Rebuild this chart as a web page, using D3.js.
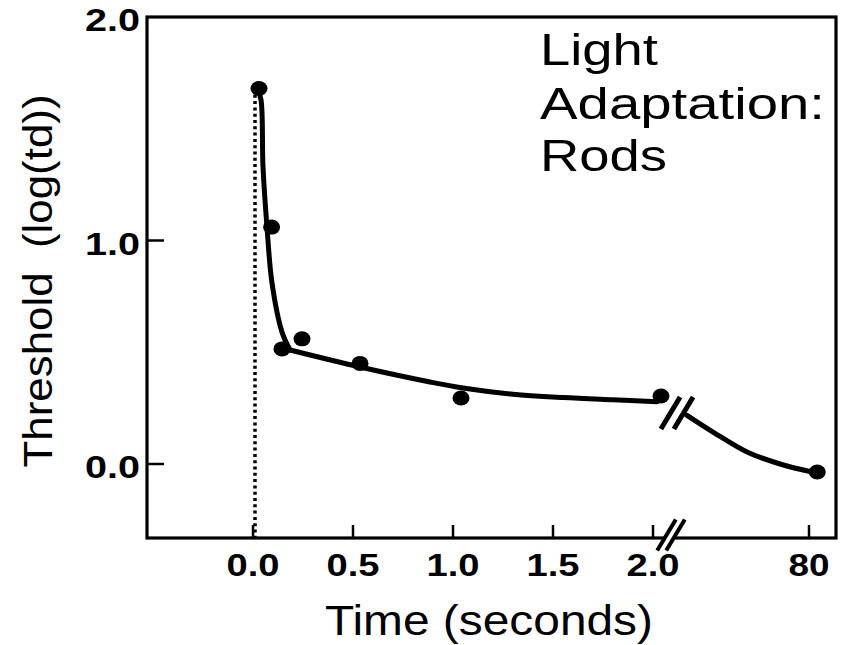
<!DOCTYPE html>
<html>
<head>
<meta charset="utf-8">
<script src="https://cdn.jsdelivr.net/npm/d3@7"></script>
<style>
  html, body { margin: 0; padding: 0; background: #fff; }
  text { font-family: "Liberation Sans", Arial, Helvetica, sans-serif; fill: #000; }
</style>
</head>
<body>
<svg id="chart" width="852" height="645"></svg>
<script>
// measured points (time in s, threshold in log td)
const dotTimes = [0.03, 0.093, 0.145, 0.245, 0.535, 1.04, 2.04];
const dotValues = [1.68, 1.06, 0.515, 0.56, 0.45, 0.295, 0.304];
const lateDotTimes = [85];
const lateDotValues = [-0.036];

// fitted curve, fast phase then slow phase, and the late part after the break
const fastTimes = [0.025, 0.04, 0.05, 0.07, 0.095, 0.145, 0.185];
const fastValues = [1.67, 1.63, 1.33, 1.06, 0.81, 0.59, 0.51];
const slowTimes = [0.185, 0.535, 0.885, 1.05, 1.3, 1.55, 1.8, 2.02];
const slowValues = [0.51, 0.434, 0.367, 0.34, 0.312, 0.297, 0.287, 0.279];
const lateTimes = [6, 22, 42.5, 62.5, 82];
const lateValues = [0.219, 0.143, 0.054, 0.0, -0.036];

const xTicks = [0, 0.5, 1, 1.5, 2];
const xTickLabels = ['0.0', '0.5', '1.0', '1.5', '2.0'];
const lateTicks = [80];
const lateTickLabels = ['80'];
const yTicks = [0, 1, 2];
const yTickLabels = ['0.0', '1.0', '2.0'];

const frame = {left: 147, right: 836, top: 17, bottom: 538};

const svg = d3.select('#chart');

const x = d3.scaleLinear().domain([0, 2]).range([253, 653]);
const xLate = d3.scaleLinear().domain([2, 80]).range([680, 809]);
const y = d3.scaleLinear().domain([0, 2]).range([464, frame.top]);

const zip = (a, b) => a.map((d, i) => [d, b[i]]);

// frame
svg.append('rect')
    .attr('x', frame.left)
    .attr('y', frame.top)
    .attr('width', frame.right - frame.left)
    .attr('height', frame.bottom - frame.top)
    .attr('fill', 'none')
    .attr('stroke', '#000')
    .attr('stroke-width', 3.2);

// y ticks (inside, pointing right)
svg.append('g').selectAll('line')
    .data(yTicks.filter(d => d < 2))
    .join('line')
    .attr('x1', frame.left).attr('x2', frame.left + 17)
    .attr('y1', d => y(d)).attr('y2', d => y(d))
    .attr('stroke', '#000').attr('stroke-width', 2.5);

svg.append('g').selectAll('text')
    .data(yTicks)
    .join('text')
    .attr('x', 140)
    .attr('y', d => y(d) + 14)
    .attr('text-anchor', 'end')
    .attr('font-size', 32)
    .attr('font-weight', 'bold')
    .attr('textLength', 55)
    .attr('lengthAdjust', 'spacingAndGlyphs')
    .text((d, i) => yTickLabels[i]);

// x ticks (inside, pointing up)
const allTicks = xTicks.map((d, i) => ({px: x(d), label: xTickLabels[i], w: 53}))
    .concat(lateTicks.map((d, i) => ({px: xLate(d), label: lateTickLabels[i], w: 41})));

svg.append('g').selectAll('line')
    .data(allTicks)
    .join('line')
    .attr('x1', d => d.px).attr('x2', d => d.px)
    .attr('y1', frame.bottom).attr('y2', frame.bottom - 13)
    .attr('stroke', '#000').attr('stroke-width', 2.5);

svg.append('g').selectAll('text')
    .data(allTicks)
    .join('text')
    .attr('x', d => d.px)
    .attr('y', 576)
    .attr('text-anchor', 'middle')
    .attr('font-size', 32)
    .attr('font-weight', 'bold')
    .attr('textLength', d => d.w)
    .attr('lengthAdjust', 'spacingAndGlyphs')
    .text(d => d.label);

// dotted line at stimulus onset
svg.append('line')
    .attr('x1', x(0) + 2).attr('x2', x(0) + 2)
    .attr('y1', y(dotValues[0])).attr('y2', frame.bottom)
    .attr('stroke', '#000')
    .attr('stroke-width', 3.5)
    .attr('stroke-dasharray', '3,3.3');

// curves
const line = d3.line().curve(d3.curveCatmullRom.alpha(0.5));
const curves = [
    zip(fastTimes, fastValues).map(d => [x(d[0]), y(d[1])]),
    zip(slowTimes, slowValues).map(d => [x(d[0]), y(d[1])]),
    zip(lateTimes, lateValues).map(d => [xLate(d[0]), y(d[1])])
];
curves.forEach(pts => {
    svg.append('path')
        .attr('d', line(pts))
        .attr('fill', 'none').attr('stroke', '#000')
        .attr('stroke-width', 5)
        .attr('stroke-linecap', 'round')
        .attr('stroke-linejoin', 'round');
});

// data dots
const dots = zip(dotTimes, dotValues).map(d => [x(d[0]), y(d[1])])
    .concat(zip(lateDotTimes, lateDotValues).map(d => [xLate(d[0]), y(d[1])]));
svg.append('g').selectAll('ellipse')
    .data(dots)
    .join('ellipse')
    .attr('cx', d => d[0]).attr('cy', d => d[1])
    .attr('rx', 8.5).attr('ry', 7.5)
    .attr('fill', '#000');

// axis breaks "//"
function drawBreak(cx, cy, gap, h, w) {
    const g = svg.append('g');
    const dx = h * 0.6;
    g.append('polygon')
        .attr('points', [
            [cx - gap / 2 - dx / 2, cy + h / 2], [cx - gap / 2 + dx / 2, cy - h / 2],
            [cx + gap / 2 + dx / 2, cy - h / 2], [cx + gap / 2 - dx / 2, cy + h / 2]
        ].map(p => p.join(',')).join(' '))
        .attr('fill', '#fff');
    [-gap / 2, gap / 2].forEach(off => {
        g.append('line')
            .attr('x1', cx + off - dx / 2).attr('y1', cy + h / 2)
            .attr('x2', cx + off + dx / 2).attr('y2', cy - h / 2)
            .attr('stroke', '#000').attr('stroke-width', w);
    });
}
drawBreak(671, frame.bottom - 3, 9, 31, 4);
drawBreak(677, y(0.228), 13, 32, 5);

// axis titles
svg.append('text')
    .attr('x', 489).attr('y', 635)
    .attr('text-anchor', 'middle')
    .attr('font-size', 42)
    .attr('textLength', 328)
    .attr('lengthAdjust', 'spacingAndGlyphs')
    .text('Time (seconds)');

svg.append('text')
    .attr('transform', 'translate(52,281) rotate(-90)')
    .attr('text-anchor', 'middle')
    .attr('font-size', 40)
    .attr('textLength', 373)
    .attr('lengthAdjust', 'spacingAndGlyphs')
    .style('white-space', 'pre')
    .text('Threshold  (log(td))');

// panel label
const panelLines = ['Light', 'Adaptation:', 'Rods'];
const panelBase = [65, 119, 171];
const panelWidth = [118, 285, 127];
svg.append('g').selectAll('text')
    .data(panelLines)
    .join('text')
    .attr('x', 540)
    .attr('y', (d, i) => panelBase[i])
    .attr('font-size', 44)
    .attr('textLength', (d, i) => panelWidth[i])
    .attr('lengthAdjust', 'spacingAndGlyphs')
    .text(d => d);
</script>
</body>
</html>
